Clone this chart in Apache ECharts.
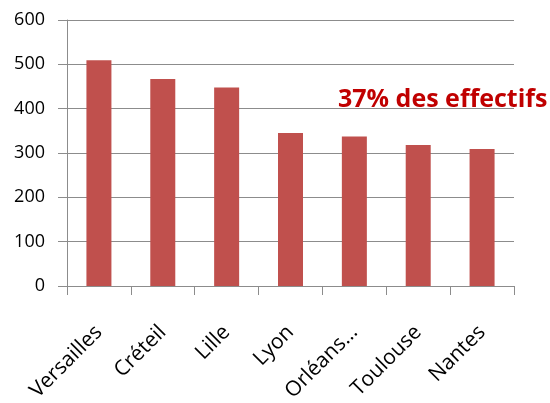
<!DOCTYPE html>
<html>
<head>
<meta charset="utf-8">
<script src="https://cdn.jsdelivr.net/npm/echarts@6/dist/echarts.min.js"></script>
<style>
  html, body { margin: 0; padding: 0; background: #fff; }
  #main { width: 550px; height: 403px; }
</style>
</head>
<body>
<div id="main"></div>
<script>
// academies and their counts
let academies = ["Versailles", "Créteil", "Lille", "Lyon", "Orléans…", "Toulouse", "Nantes"];
let effectifs = [509, 467, 448, 345, 337, 318, 309];
let yTicks = [0, 100, 200, 300, 400, 500, 600];
let note = "37% des effectifs";

let myChart = echarts.init(document.getElementById("main"));

let font = "Open Sans";
let gray = "#8C8C8C";

let option = {
    animation: false,
    grid: { left: 67, right: 36, top: 20, bottom: 117, outerBoundsMode: "none" },
    graphic: [
        {
            type: "text",
            left: 338,
            top: 87,
            style: {
                text: note,
                fill: "#C00000",
                font: "bold 25px 'Open Sans'"
            }
        }
    ],
    xAxis: {
        type: "category",
        data: academies,
        axisLine: { lineStyle: { color: gray } },
        axisTick: { show: true, length: 9, lineStyle: { color: gray } },
        axisLabel: {
            rotate: 45,
            margin: 43,
            fontFamily: font,
            fontSize: 21,
            color: "#000"
        }
    },
    yAxis: {
        type: "value",
        min: yTicks[0],
        max: yTicks[yTicks.length - 1],
        interval: 100,
        axisLine: { show: true, lineStyle: { color: gray } },
        axisTick: { show: true, length: 9, lineStyle: { color: gray } },
        splitLine: { lineStyle: { color: gray, width: 1 } },
        axisLabel: {
            margin: 22,
            fontFamily: font,
            fontSize: 18,
            color: "#000"
        }
    },
    series: [
        {
            type: "bar",
            data: effectifs,
            barWidth: 25,
            itemStyle: { color: "#C0504D" }
        }
    ]
};

myChart.setOption(option);
</script>
</body>
</html>
